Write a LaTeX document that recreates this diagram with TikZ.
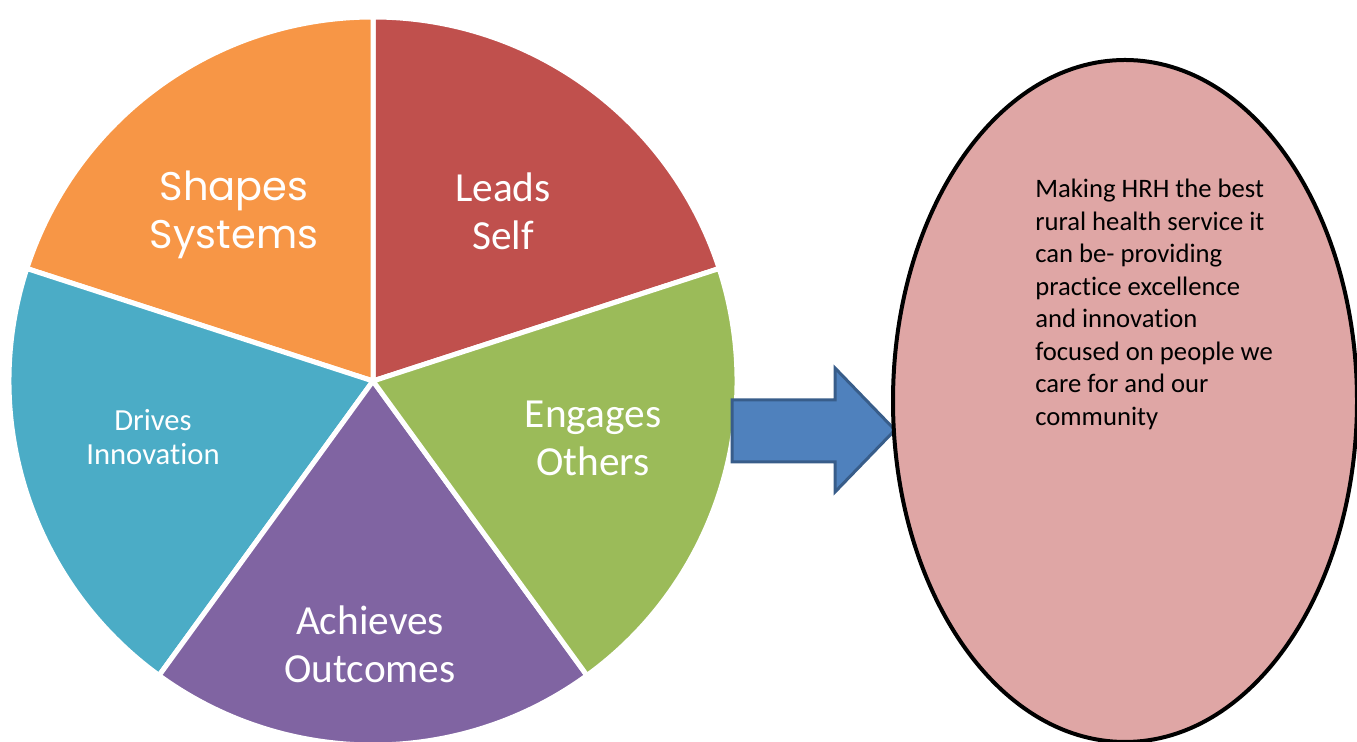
\documentclass[tikz,border=0pt]{standalone}
\usepackage{fontspec}
\setmainfont{Carlito}[Ligatures=CommonOff]
\newfontfamily\gothicfont{Poppins}
\usetikzlibrary{shapes.geometric}

\definecolor{leadred}{HTML}{C0504D}
\definecolor{shapeorange}{HTML}{F79646}
\definecolor{driveaqua}{HTML}{4BACC6}
\definecolor{achievepurple}{HTML}{8064A2}
\definecolor{engagegreen}{HTML}{9BBB59}
\definecolor{arrowblue}{HTML}{4F81BD}
\definecolor{arrowedge}{HTML}{385D8A}
\definecolor{visionpink}{HTML}{DFA6A5}

\tikzset{
  slice/.style={draw=white, line width=3.75pt, line join=round},
  biglabel/.style={text=white, align=center, inner sep=0pt, font=\fontsize{31}{36}\selectfont},
  smalllabel/.style={text=white, align=center, inner sep=0pt, font=\fontsize{23}{25}\selectfont},
  vision/.style={shape=ellipse, draw=black, fill=visionpink, line width=3pt, inner sep=0pt,
    minimum width=348pt, minimum height=511.5pt},
}

\begin{document}
\begin{tikzpicture}[x=0.75pt,y=0.75pt]
    \useasboundingbox (0,0) rectangle (1357,742);
    \clip (0,0) rectangle (1357,742);

    % the five slices
    \coordinate (O) at (373,361);
    \filldraw[slice, fill=leadred] (O) -- ++(18:364) arc[start angle=18, end angle=90, radius=364] -- cycle;
    \filldraw[slice, fill=shapeorange] (O) -- ++(90:364) arc[start angle=90, end angle=162, radius=364] -- cycle;
    \filldraw[slice, fill=driveaqua] (O) -- ++(162:364) arc[start angle=162, end angle=234, radius=364] -- cycle;
    \filldraw[slice, fill=achievepurple] (O) -- ++(234:364) arc[start angle=234, end angle=306, radius=364] -- cycle;
    \filldraw[slice, fill=engagegreen] (O) -- ++(306:364) arc[start angle=306, end angle=378, radius=364] -- cycle;

    \node[biglabel] (lead) at (503,531) {Leads\\Self};
    \node[biglabel, font=\gothicfont\fontsize{30}{36}\selectfont] (shape) at (234,527) {Shapes\\Systems};
    \node[smalllabel] (drive) at (153,305) {Drives\\Innovation};
    \node[biglabel] (achieve) at (370,98) {Achieves\\Outcomes};
    \node[biglabel] (engage) at (593,304) {Engages\\Others};

    % block arrow
    \filldraw[fill=arrowblue, draw=arrowedge, line width=2.25pt, line join=miter]
        (732,342) -- (835,342) -- (835,374) -- (895,312) -- (835,250) -- (835,280) -- (732,280) -- cycle;

    % vision
    \node[vision] (goal) at (1125,341) {};
    \node[anchor=north west, inner sep=0pt, align=left, font=\fontsize{20}{24.4}\selectfont] (goaltext) at (1035,563)
        {Making HRH the best\\rural health service it\\can be- providing\\practice excellence\\and innovation\\focused on people we\\care for and our\\community};
\end{tikzpicture}
\end{document}
